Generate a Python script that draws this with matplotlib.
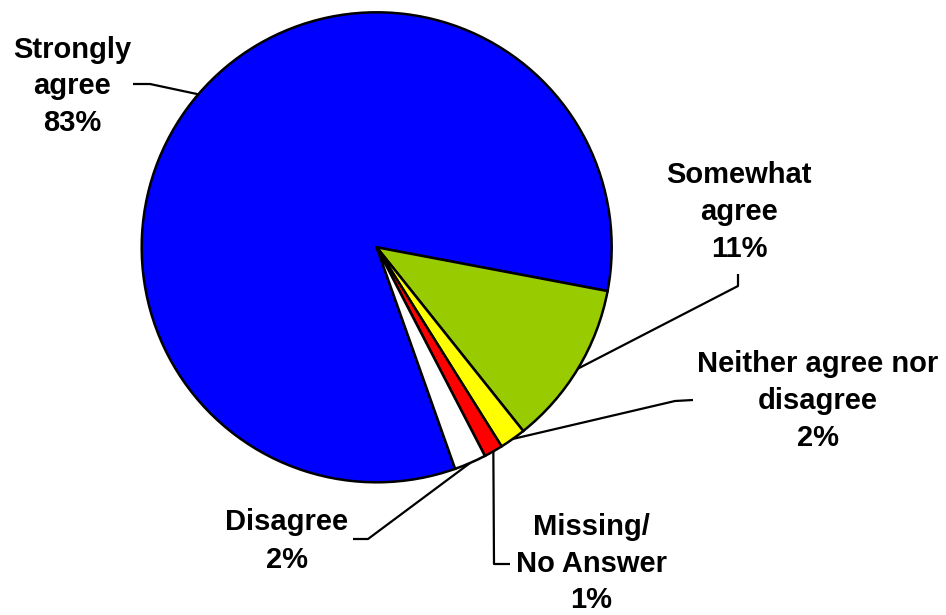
import matplotlib
matplotlib.use("Agg")
import matplotlib.pyplot as plt
import numpy as np

# ---- data ----
categories = ["Strongly agree", "Somewhat agree", "Neither agree nor disagree",
              "Missing/No Answer", "Disagree"]
values = [83.4, 11.3, 1.8, 1.3, 2.2]
pct_labels = ["83%", "11%", "2%", "1%", "2%"]
label_lines = [["Strongly", "agree"], ["Somewhat", "agree"],
               ["Neither agree nor", "disagree"], ["Missing/", "No Answer"],
               ["Disagree"]]
colors = ["#0000FF", "#99CC00", "#FFFF00", "#FF0000", "#FFFFFF"]

# ---- layout (pixel coords, origin top-left) ----
W, H = 946, 615
center = (376.7, 247.3)
radius = 235
# text: (center x, first baseline, line spacing)
text_pos = [(72, 58, 36.5), (739, 183, 37), (818, 372, 37), (591, 535, 36.5), (287, 530, 38)]
# leader elbows: list of points from text end toward pie (anchor added from wedge)
elbows = [[(133, 84), (150, 84)],
          [(738, 274), (738, 286)],
          [(693, 400), (675, 401)],
          [(510, 564), (494, 564)],
          [(353, 539), (368, 539)]]

fig = plt.figure(figsize=(W / 100, H / 100), dpi=100)
ax = fig.add_axes([0, 0, 1, 1])

def fy(y):
    return H - y

wedges, _ = ax.pie(values, colors=colors, startangle=289.5, counterclock=False,
                   center=(center[0], fy(center[1])), radius=radius,
                   wedgeprops=dict(edgecolor="black", linewidth=1.8),
                   frame=True)
ax.set_xlim(0, W)
ax.set_ylim(0, H)
ax.set_aspect("equal")
ax.axis("off")

font = dict(family=["Liberation Sans", "DejaVu Sans"], fontweight="bold",
            fontsize=21, color="black")

for i, w in enumerate(wedges):
    lines = label_lines[i] + [pct_labels[i]]
    cx, by, sp = text_pos[i]
    for k, ln in enumerate(lines):
        ax.text(cx, fy(by + k * sp), ln, ha="center", va="baseline", **font)
    mid = np.deg2rad((w.theta1 + w.theta2) / 2)
    ax_x = center[0] + radius * np.cos(mid)
    ax_y = fy(center[1]) + radius * np.sin(mid)
    pts = [(x, fy(y)) for x, y in elbows[i]] + [(ax_x, ax_y)]
    xs, ys = zip(*pts)
    ax.plot(xs, ys, color="black", linewidth=1.6, solid_capstyle="butt")

fig.savefig("out.png", dpi=100)
